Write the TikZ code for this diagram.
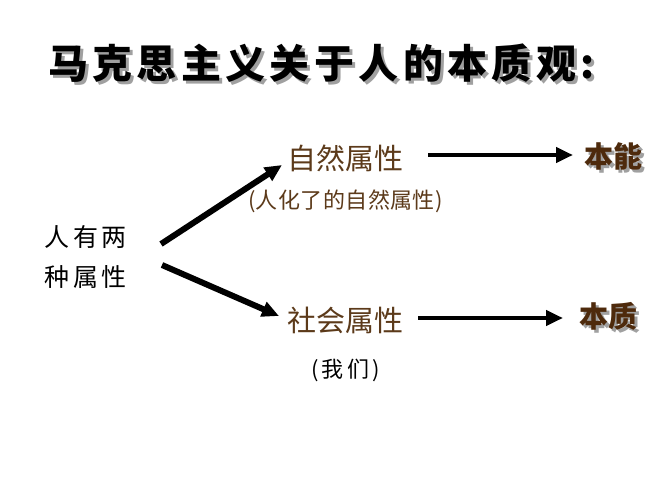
\documentclass[tikz,border=0pt]{standalone}
\usepackage{fontspec}
\setmainfont{Noto Sans CJK SC}
\newfontfamily\cjk{Noto Sans CJK SC}
\usetikzlibrary{arrows.meta}
\definecolor{brn}{RGB}{92,58,26}
\definecolor{dbrn}{RGB}{78,42,12}
\definecolor{shd}{RGB}{160,160,160}
\tikzset{
  lbl/.style={inner sep=0pt, outer sep=0pt},
  arr/.style={line width=#1, -{Triangle[length=17pt,width=15pt]}},
  arr/.default=6pt
}
% text with a grey drop shadow, set in one box
\newcommand{\shtext}[1]{\makebox[0pt][l]{\hspace{3pt}\raisebox{-3pt}{\textcolor{shd}{#1}}}#1}
\begin{document}
\begin{tikzpicture}[x=1pt,y=-1pt]
\useasboundingbox[fill=white] (0,0) rectangle (667,500);
% title
\node[lbl,anchor=west] (title) at (48,65) {\cjk\bfseries\fontsize{40}{40}\selectfont\addfontfeature{LetterSpace=11}\shtext{马克思主义关于人的本质观:}};
% left text
\node[lbl,anchor=west] (l1) at (45,237) {\cjk\fontsize{25}{25}\selectfont\addfontfeature{LetterSpace=13}人有两};
\node[lbl,anchor=west] (l2) at (45,277) {\cjk\fontsize{25}{25}\selectfont\addfontfeature{LetterSpace=13}种属性};
% middle
\node[lbl,anchor=west,text=brn] (nat) at (287,158) {\cjk\fontsize{29}{29}\selectfont 自然属性};
\node[lbl,anchor=west,text=brn] (natn) at (248,201) {\cjk\fontsize{22}{22}\selectfont\addfontfeature{LetterSpace=2}(人化了的自然属性)};
\node[lbl,anchor=west,text=brn] (soc) at (287,320) {\cjk\fontsize{29}{29}\selectfont 社会属性};
\node[lbl,anchor=west] (socn) at (311,370) {\cjk\fontsize{22}{22}\selectfont\addfontfeature{LetterSpace=15}(我们)};
% right
\node[lbl,anchor=west,text=dbrn] (bn) at (584,158) {\cjk\bfseries\fontsize{29}{29}\selectfont\shtext{本能}};
\node[lbl,anchor=west,text=dbrn] (bz) at (579,318) {\cjk\bfseries\fontsize{29}{29}\selectfont\shtext{本质}};
% arrow end points
\coordinate (a1s) at (161,244);
\coordinate (a1e) at (282,165);
\coordinate (a2s) at (162,265);
\coordinate (a2e) at (279,316);
\coordinate (a3s) at (428,155);
\coordinate (a3e) at (573,155);
\coordinate (a4s) at (418,318);
\coordinate (a4e) at (563,318);
\draw[arr=6pt] (a1s) -- (a1e);
\draw[arr=6pt] (a2s) -- (a2e);
\draw[arr=4.5pt] (a3s) -- (a3e);
\draw[arr=4.5pt] (a4s) -- (a4e);
\end{tikzpicture}
\end{document}
